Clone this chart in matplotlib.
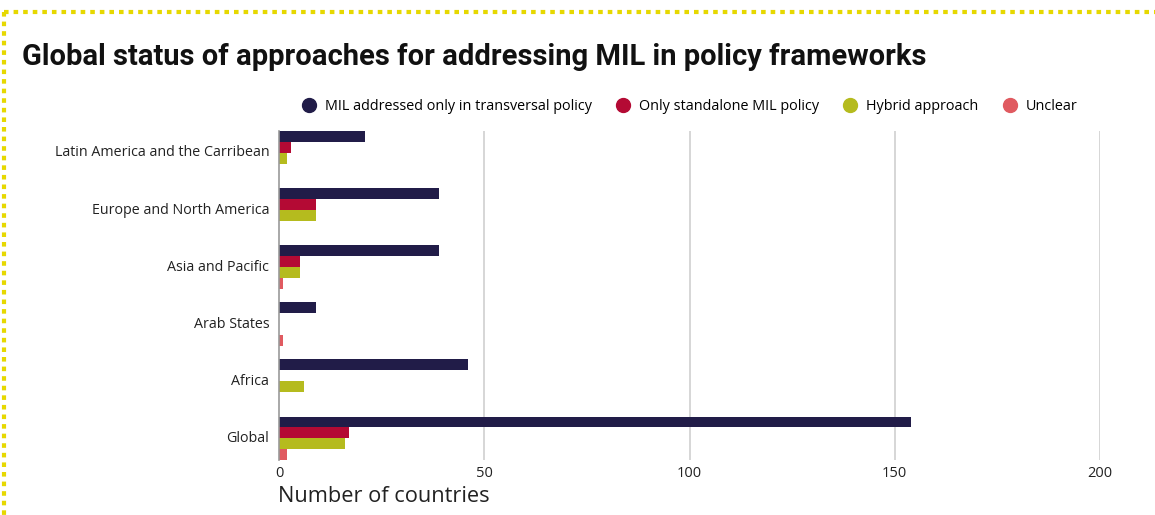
#!/usr/bin/env python3

import matplotlib.pyplot as plt
import numpy as np
from matplotlib.lines import Line2D

regions = [
    'Latin America and the Carribean',
    'Europe and North America',
    'Asia and Pacific',
    'Arab States',
    'Africa',
    'Global',
]
series_names = [
    'MIL addressed only in transversal policy',
    'Only standalone MIL policy',
    'Hybrid approach',
    'Unclear',
]
transversal = [21, 39, 39, 9, 46, 154]
standalone = [3, 9, 5, 0, 0, 17]
hybrid = [2, 9, 5, 0, 6, 16]
unclear = [0, 0, 1, 1, 0, 2]
x_ticks = [0, 50, 100, 150, 200]

colors = ['#211c48', '#b40a34', '#b5bb1e', '#e05a60']


def main() -> None:
    fig = plt.figure(figsize=(11.55, 5.15), dpi=100)
    ax = fig.add_axes([279 / 1155, 1 - 460 / 515, (1100 - 279) / 1155, (460 - 131) / 515])

    y = np.arange(len(regions))
    h = 0.19
    all_series = [transversal, standalone, hybrid, unclear]
    for i, (vals, color) in enumerate(zip(all_series, colors)):
        ax.barh(y + (i - 1.5) * h, vals, height=h, color=color, zorder=3)

    ax.set_xlim(0, 200)
    ax.set_ylim(len(regions) - 1 + 2 * h, -2 * h)
    ax.set_xticks(x_ticks)
    ax.set_yticks(y - 0.03)
    ax.set_yticklabels(regions, fontfamily='Open Sans', fontsize=10.3, color='#222222')
    for lbl in ax.get_xticklabels():
        lbl.set_fontfamily('Open Sans')
        lbl.set_fontsize(10.5)
        lbl.set_color('#222222')
    ax.tick_params(axis='both', length=0)
    ax.tick_params(axis='y', pad=7)
    ax.tick_params(axis='x', pad=4)

    ax.grid(axis='x', color='#d0d0d0', linewidth=1.2, zorder=0)
    ax.xaxis.get_gridlines()[0].set_visible(False)
    for side in ['top', 'right', 'bottom']:
        ax.spines[side].set_visible(False)
    ax.spines['left'].set_color('#999999')
    ax.spines['left'].set_linewidth(1.2)
    ax.spines['left'].set_zorder(4)

    fig.text(278 / 1155, 1 - 496 / 515, 'Number of countries', fontfamily='Open Sans',
             fontsize=15.7, color='#222222', ha='left', va='center')

    fig.text(22 / 1155, 1 - 57 / 515,
             'Global status of approaches for addressing MIL in policy frameworks',
             fontfamily='Roboto', fontweight='bold', fontsize=21, color='#111111',
             ha='left', va='center')

    handles = [
        Line2D([], [], marker='o', linestyle='none', markersize=10, color=c)
        for c in colors
    ]
    fig.legend(handles, series_names, loc='center', bbox_to_anchor=(686 / 1155, 1 - 107 / 515),
               ncol=4, frameon=False, handletextpad=0.1, columnspacing=1.15,
               prop={'family': 'Open Sans', 'size': 10.4})

    # dotted yellow frame along the top and left edge
    frame_style = dict(color='#e6d800', linewidth=3, linestyle=(0, (1.1, 1.2)),
                       solid_capstyle='butt', dash_capstyle='butt')
    fig.add_artist(Line2D([4 / 1155, 1], [1 - 12 / 515, 1 - 12 / 515], **frame_style))
    fig.add_artist(Line2D([4 / 1155, 4 / 1155], [1 - 12 / 515, 0], **frame_style))

    fig.savefig('out.png', dpi=100)


if __name__ == '__main__':
    main()
